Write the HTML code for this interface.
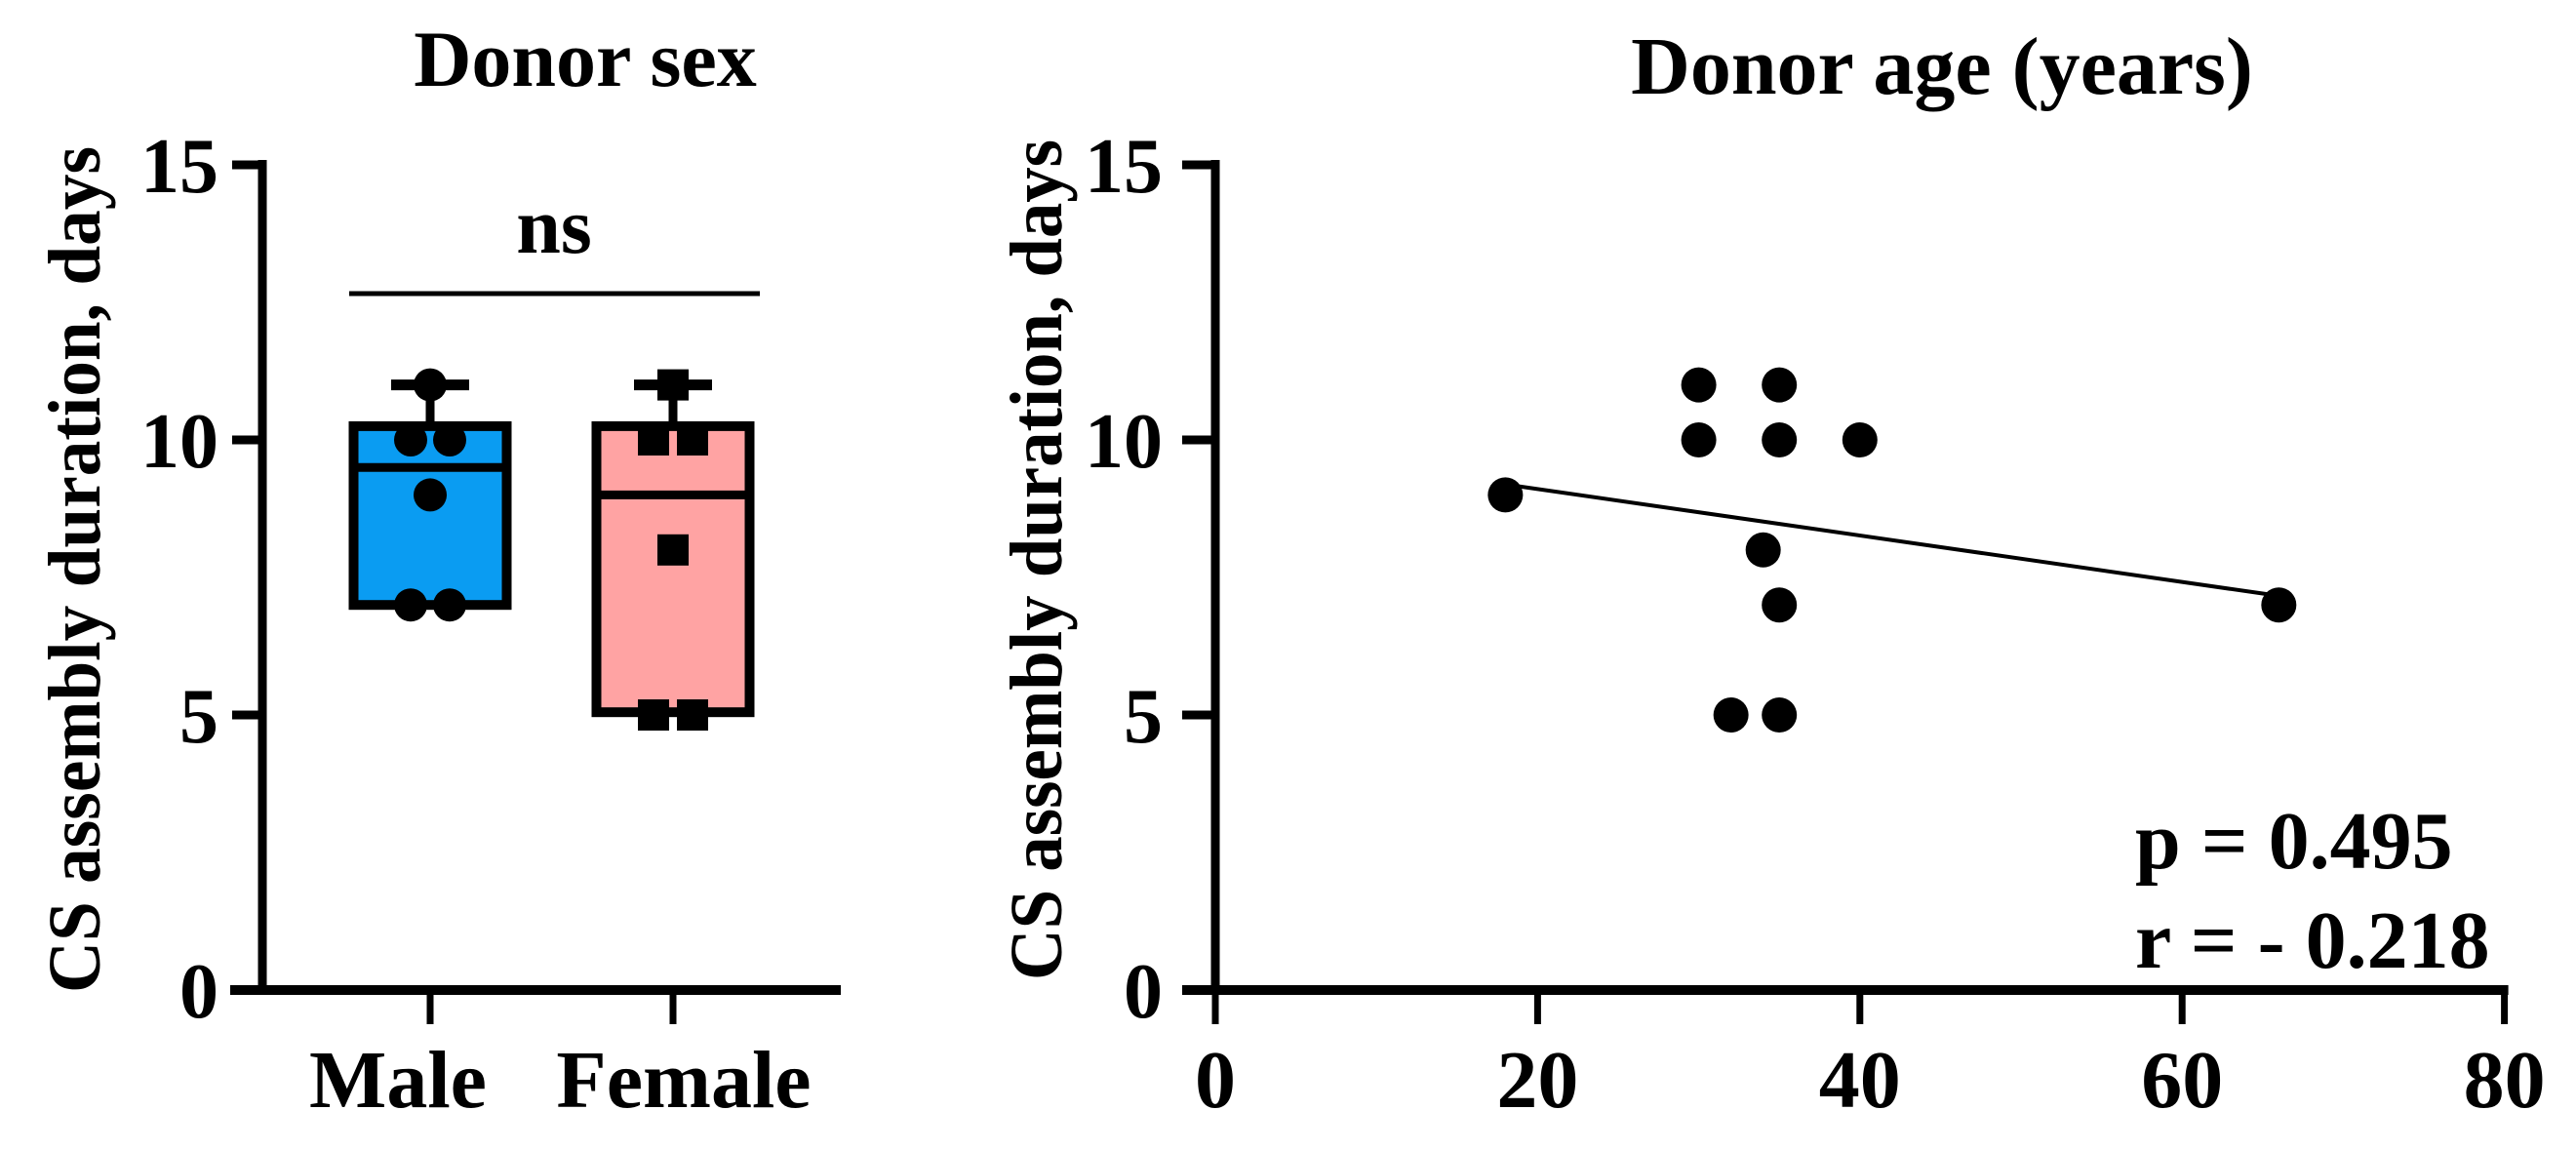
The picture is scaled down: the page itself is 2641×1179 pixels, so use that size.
<!DOCTYPE html>
<html><head><meta charset="utf-8"><style>
html,body{margin:0;padding:0;background:#fff;}
svg{display:block;font-family:"Liberation Serif",serif;font-weight:bold;}
</style></head><body>
<svg id="chart" width="2641" height="1179" viewBox="0 0 2641 1179" xmlns="http://www.w3.org/2000/svg"></svg>
<script>
// ---- data ----
const groups = ["Male", "Female"];
const maleValues = [11, 10, 10, 9, 7, 7];
const femaleValues = [11, 10, 10, 8, 5, 5];
const boxMin = [7, 5];
const boxQ1 = [7, 5.05];
const boxMedian = [9.5, 9];
const boxQ3 = [10.25, 10.25];
const boxMax = [11, 11];
const yTicks = [0, 5, 10, 15];
const xTicks = [0, 20, 40, 60, 80];
const ages = [18, 30, 35, 30, 35, 40, 34, 35, 32, 35, 66];
const durations = [9, 11, 11, 10, 10, 10, 8, 7, 5, 5, 7];
const statsText = ["p = 0.495", "r = - 0.218"];

const NS = "http://www.w3.org/2000/svg";
const svg = document.getElementById("chart");
function mk(tag, attrs, parent) {
  const e = document.createElementNS(NS, tag);
  for (const k in attrs) e.setAttribute(k, attrs[k]);
  (parent || svg).appendChild(e);
  return e;
}
const Y0 = 1015, PXU = 56.4;
const y = v => Y0 - v * PXU;

// ---------- Left panel ----------
const gL = mk("g", {});


let t = mk("text", {x: 600, y: 88, "font-size": 82, "text-anchor": "middle"}, gL);
t.textContent = "Donor sex";



t = mk("text", {x: 0, y: 0, "font-size": 76, "text-anchor": "middle", transform: "translate(102,584) rotate(-90)", textLength: 868, lengthAdjust: "spacingAndGlyphs"}, gL);
t.textContent = "CS assembly duration, days";



const axL = 269;
let e = mk("line", {x1: axL, y1: y(15) - 5, x2: axL, y2: Y0, stroke: "#000", "stroke-width": 9}, gL);


e = mk("line", {x1: 236, y1: Y0, x2: 862, y2: Y0, stroke: "#000", "stroke-width": 10}, gL);


yTicks.forEach(v => {
  const l = mk("line", {x1: 238, y1: y(v), x2: axL, y2: y(v), stroke: "#000", "stroke-width": 9}, gL);
  
  
  const tx = mk("text", {x: 224, y: y(v) + 28, "font-size": 80, "text-anchor": "end"}, gL);
  tx.textContent = v;
  
  
});
const cx = [441, 690];
const labelX = [408, 701];
const boxW = 157;
const colors = ["#0a9cf2", "#ffa3a3"];
const pts = [maleValues, femaleValues];
groups.forEach((g, i) => {
  const l = mk("line", {x1: cx[i], y1: Y0, x2: cx[i], y2: 1050, stroke: "#000", "stroke-width": 7}, gL);
  
  
  const tx = mk("text", {x: labelX[i], y: 1135, "font-size": 84, "text-anchor": "middle"}, gL);
  tx.textContent = g;
  
  
  const w1 = mk("line", {x1: cx[i], y1: y(boxMax[i]), x2: cx[i], y2: y(boxQ3[i]), stroke: "#000", "stroke-width": 9}, gL);
  
  
  const c1 = mk("line", {x1: cx[i] - 40, y1: y(boxMax[i]), x2: cx[i] + 40, y2: y(boxMax[i]), stroke: "#000", "stroke-width": 11}, gL);
  
  
  const r = mk("rect", {x: cx[i] - boxW / 2, y: y(boxQ3[i]), width: boxW, height: y(boxQ1[i]) - y(boxQ3[i]), fill: colors[i], stroke: "#000", "stroke-width": 10}, gL);
  
  
  const m = mk("line", {x1: cx[i] - boxW / 2, y1: y(boxMedian[i]), x2: cx[i] + boxW / 2, y2: y(boxMedian[i]), stroke: "#000", "stroke-width": 9}, gL);
  
  
  const seen = {};
  pts[i].forEach(v => {
    seen[v] = (seen[v] || 0) + 1;
    const cnt = pts[i].filter(q => q === v).length;
    const off = cnt > 1 ? (seen[v] === 1 ? -20 : 20) : 0;
    let p;
    if (i === 0) {
      p = mk("circle", {cx: cx[i] + off, cy: y(v), r: 17, fill: "#000"}, gL);
    } else {
      p = mk("rect", {x: cx[i] + off - 16, y: y(v) - 16, width: 32, height: 32, fill: "#000"}, gL);
    }
    
    
  });
});
e = mk("line", {x1: 358, y1: 301, x2: 779, y2: 301, stroke: "#000", "stroke-width": 5}, gL);


t = mk("text", {x: 568, y: 259, "font-size": 82, "text-anchor": "middle"}, gL);
t.textContent = "ns";



// ---------- Right panel ----------
const gR = mk("g", {});


const X0 = 1246, XU = 16.52;
const x = v => X0 + v * XU;
t = mk("text", {x: 1991, y: 96, "font-size": 84, "text-anchor": "middle"}, gR);
t.textContent = "Donor age (years)";


t = mk("text", {x: 0, y: 0, "font-size": 76, "text-anchor": "middle", transform: "translate(1088,574) rotate(-90)", textLength: 862, lengthAdjust: "spacingAndGlyphs"}, gR);
t.textContent = "CS assembly duration, days";


e = mk("line", {x1: X0, y1: y(15) - 5, x2: X0, y2: Y0 + 4, stroke: "#000", "stroke-width": 9}, gR);


e = mk("line", {x1: 1212, y1: Y0, x2: x(80) + 4, y2: Y0, stroke: "#000", "stroke-width": 10}, gR);


yTicks.forEach(v => {
  const l = mk("line", {x1: 1212, y1: y(v), x2: X0, y2: y(v), stroke: "#000", "stroke-width": 9}, gR);
  
  
  const tx = mk("text", {x: 1192, y: y(v) + 28, "font-size": 80, "text-anchor": "end"}, gR);
  tx.textContent = v;
  
  
});
xTicks.forEach(v => {
  const l = mk("line", {x1: x(v), y1: Y0, x2: x(v), y2: 1050, stroke: "#000", "stroke-width": 7}, gR);
  
  
  const tx = mk("text", {x: x(v), y: 1135, "font-size": 84, "text-anchor": "middle"}, gR);
  tx.textContent = v;
  
  
});
const n = ages.length;
const mx = ages.reduce((a, b) => a + b, 0) / n;
const my = durations.reduce((a, b) => a + b, 0) / n;
let sxy = 0, sxx = 0;
for (let i = 0; i < n; i++) { sxy += (ages[i] - mx) * (durations[i] - my); sxx += (ages[i] - mx) ** 2; }
const slope = sxy / sxx, icpt = my - slope * mx;
const xmin = Math.min(...ages), xmax = Math.max(...ages);
e = mk("line", {x1: x(xmin), y1: y(icpt + slope * xmin), x2: x(xmax), y2: y(icpt + slope * xmax), stroke: "#000", "stroke-width": 4}, gR);


ages.forEach((a, i) => {
  const p = mk("circle", {cx: x(a), cy: y(durations[i]), r: 18, fill: "#000"}, gR);
  
  
});
statsText.forEach((s, i) => {
  const tx = mk("text", {x: 2189, y: 890 + i * 102, "font-size": 84}, gR);
  tx.textContent = s;
  
  
});
</script>
</body></html>
